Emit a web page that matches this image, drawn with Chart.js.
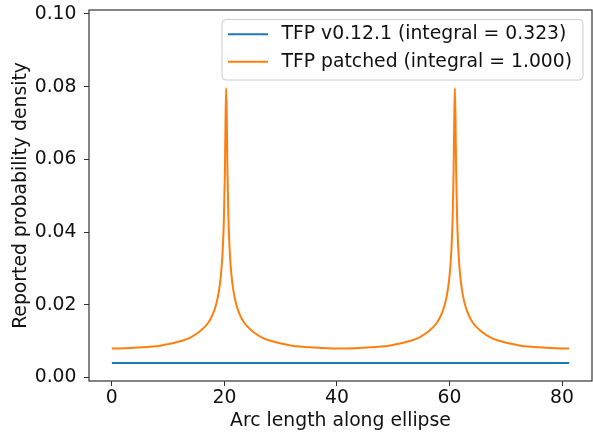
<!DOCTYPE html>
<html>
<head>
<meta charset="utf-8">
<script src="https://cdn.jsdelivr.net/npm/chart.js@4"></script>
<style>
  html, body { margin: 0; padding: 0; background: #fff; }
  canvas { display: block; }
</style>
</head>
<body>
<canvas id="densityChart" width="593" height="432"></canvas>
<script>
// values
const seriesLabels = ['TFP v0.12.1 (integral = 0.323)', 'TFP patched (integral = 1.000)'];

const tfpArc = [0, 81.27];
const tfpDensity = [0.0040, 0.0040];

const patchedArc = [
  0, 1.41, 3.40, 5.35, 7.25, 9.07, 10.81, 12.44, 13.95, 15.32, 16.54, 17.09, 17.60, 18.07, 18.49, 18.87, 19.20, 19.49, 19.73, 19.93, 20.09, 20.21, 20.32,
  20.43, 20.55, 20.71, 20.91, 21.15, 21.44, 21.77, 22.15, 22.57, 23.04, 23.55, 24.10, 25.32, 26.69, 28.20, 29.83, 31.56, 33.39, 35.29, 37.24, 39.22, 40.64,
  42.06, 44.04, 45.99, 47.89, 49.72, 51.45, 53.08, 54.59, 55.96, 57.18, 57.73, 58.24, 58.71, 59.13, 59.51, 59.84, 60.13, 60.37, 60.57, 60.73, 60.85, 60.96,
  61.07, 61.19, 61.35, 61.55, 61.79, 62.08, 62.41, 62.79, 63.21, 63.68, 64.19, 64.74, 65.96, 67.33, 68.84, 70.47, 72.20, 74.03, 75.93, 77.88, 79.86, 81.27
];
const patchedDensity = [
  0.0080, 0.0080, 0.0081, 0.0083, 0.0085, 0.0089, 0.0094, 0.0101, 0.0110, 0.0123, 0.0140, 0.0150, 0.0163, 0.0179, 0.0199, 0.0224, 0.0256, 0.0300, 0.0359, 0.0444, 0.0565, 0.0712, 0.0796,
  0.0712, 0.0565, 0.0444, 0.0359, 0.0300, 0.0256, 0.0224, 0.0199, 0.0179, 0.0163, 0.0150, 0.0140, 0.0123, 0.0110, 0.0101, 0.0094, 0.0089, 0.0085, 0.0083, 0.0081, 0.0080, 0.0080,
  0.0080, 0.0081, 0.0083, 0.0085, 0.0089, 0.0094, 0.0101, 0.0110, 0.0123, 0.0140, 0.0150, 0.0163, 0.0179, 0.0199, 0.0224, 0.0256, 0.0300, 0.0359, 0.0444, 0.0565, 0.0712, 0.0796,
  0.0712, 0.0565, 0.0444, 0.0359, 0.0300, 0.0256, 0.0224, 0.0199, 0.0179, 0.0163, 0.0150, 0.0140, 0.0123, 0.0110, 0.0101, 0.0094, 0.0089, 0.0085, 0.0083, 0.0081, 0.0080, 0.0080
];

const xTicks = [0, 20, 40, 60, 80];
const yTicks = [0, 0.02, 0.04, 0.06, 0.08, 0.10];

const FONT = 'DejaVu Sans';
const FONT_SIZE = 18.8;
const TEXT_COLOR = '#111';

Chart.defaults.font.family = FONT;
Chart.defaults.font.size = FONT_SIZE;
Chart.defaults.color = TEXT_COLOR;

function toPoints(xs, ys) {
  return xs.map((x, i) => ({ x: x, y: ys[i] }));
}

// axes frame (all four spines)
const framePlugin = {
  id: 'frame',
  afterDraw(chart) {
    const { ctx, chartArea } = chart;
    ctx.save();
    ctx.strokeStyle = '#333';
    ctx.lineWidth = 1.2;
    ctx.strokeRect(chartArea.left, chartArea.top, chartArea.right - chartArea.left, chartArea.bottom - chartArea.top);
    ctx.restore();
  }
};

// matplotlib-style legend in the upper right
const legendPlugin = {
  id: 'boxLegend',
  afterDraw(chart) {
    const ctx = chart.ctx;
    const bx = 222, by = 19.5, bw = 361, bh = 60.5, r = 4;
    ctx.save();
    ctx.beginPath();
    ctx.moveTo(bx + r, by);
    ctx.arcTo(bx + bw, by, bx + bw, by + bh, r);
    ctx.arcTo(bx + bw, by + bh, bx, by + bh, r);
    ctx.arcTo(bx, by + bh, bx, by, r);
    ctx.arcTo(bx, by, bx + bw, by, r);
    ctx.closePath();
    ctx.fillStyle = 'rgba(255,255,255,0.8)';
    ctx.fill();
    ctx.strokeStyle = '#cccccc';
    ctx.lineWidth = 1;
    ctx.stroke();

    const rows = [34.3, 61.7];
    chart.data.datasets.forEach((ds, i) => {
      ctx.beginPath();
      ctx.moveTo(228, rows[i]);
      ctx.lineTo(268, rows[i]);
      ctx.strokeStyle = ds.borderColor;
      ctx.lineWidth = 2;
      ctx.stroke();
      ctx.fillStyle = TEXT_COLOR;
      ctx.font = FONT_SIZE + 'px "' + FONT + '"';
      ctx.textAlign = 'left';
      ctx.textBaseline = 'middle';
      ctx.fillText(ds.label, 281.5, rows[i]);
    });
    ctx.restore();
  }
};

const ctx = document.getElementById('densityChart').getContext('2d');

new Chart(ctx, {
  type: 'line',
  data: {
    datasets: [
      {
        label: seriesLabels[0],
        data: toPoints(tfpArc, tfpDensity),
        borderColor: '#1f77b4',
        backgroundColor: '#1f77b4',
        borderWidth: 2,
        pointRadius: 0,
        fill: false
      },
      {
        label: seriesLabels[1],
        data: toPoints(patchedArc, patchedDensity),
        borderColor: '#ff7f0e',
        backgroundColor: '#ff7f0e',
        borderWidth: 2,
        pointRadius: 0,
        fill: false,
        cubicInterpolationMode: 'monotone'
      }
    ]
  },
  options: {
    responsive: false,
    animation: false,
    layout: { padding: { top: 10, right: 1, left: 0, bottom: 0 } },
    plugins: {
      legend: { display: false },
      tooltip: { enabled: false }
    },
    scales: {
      x: {
        type: 'linear',
        min: -4.06,
        max: 85.33,
        afterBuildTicks: (scale) => { scale.ticks = xTicks.map(v => ({ value: v })); },
        afterFit: (scale) => {
          scale.height = 51;
          scale.paddingLeft = 0;
          scale.paddingRight = 0;
        },
        ticks: { padding: 1, color: TEXT_COLOR, maxRotation: 0, callback: (v) => String(v) },
        grid: { display: true, drawOnChartArea: false, drawTicks: true, tickLength: 5, color: '#333' },
        border: { display: false },
        title: {
          display: true,
          text: 'Arc length along ellipse',
          color: TEXT_COLOR,
          padding: { top: 0, bottom: 0 }
        }
      },
      y: {
        type: 'linear',
        min: -0.00096,
        max: 0.1011,
        afterBuildTicks: (scale) => { scale.ticks = yTicks.map(v => ({ value: v })); },
        afterFit: (scale) => {
          scale.width = 89;
          scale.paddingTop = 0;
          scale.paddingBottom = 0;
        },
        ticks: { padding: 7.5, color: TEXT_COLOR, callback: (v) => v.toFixed(2) },
        grid: { display: true, drawOnChartArea: false, drawTicks: true, tickLength: 5, color: '#333' },
        border: { display: false },
        title: {
          display: true,
          text: 'Reported probability density',
          color: TEXT_COLOR,
          padding: { top: 10, bottom: 0 }
        }
      }
    }
  },
  plugins: [framePlugin, legendPlugin]
});
</script>
</body>
</html>
